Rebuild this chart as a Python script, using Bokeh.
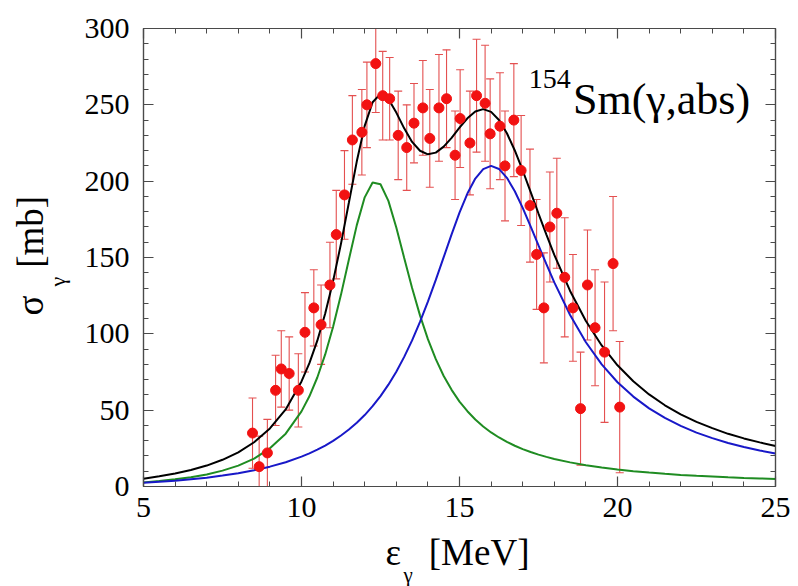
import numpy as np
from bokeh.plotting import figure
from bokeh.models import Range1d, LinearAxis, Label, FixedTicker, ColumnDataSource, Title
from bokeh.embed import file_html
from bokeh.resources import INLINE

# ---- measured photo-absorption points for 154Sm ----
energy_pts = [8.45, 8.66, 8.92, 9.18, 9.36, 9.61, 9.90, 10.11, 10.39, 10.62, 10.90, 11.10,
              11.36, 11.61, 11.91, 12.07, 12.35, 12.57, 12.79, 13.06, 13.33, 13.56, 13.84,
              14.06, 14.35, 14.59, 14.86, 15.02, 15.33, 15.54, 15.81, 15.97, 16.28, 16.44,
              16.72, 16.95, 17.23, 17.44, 17.67, 17.86, 18.08, 18.33, 18.59, 18.83, 19.05,
              19.29, 19.59, 19.86, 20.07]
sigma_pts = [35, 13, 22, 63, 77, 74, 63, 101, 117, 106, 132, 165, 191, 227, 232, 250, 277,
             256, 254, 230, 222, 238, 248, 228, 248, 254, 217, 241, 225, 256, 251, 231, 236,
             210, 240, 207, 184, 152, 117, 170, 179, 137, 117, 51, 132, 104, 88, 146, 52]
sigma_err = [23, 20, 22, 23, 25, 24, 24, 26, 25, 26, 28, 29, 29, 29, 28, 28, 32, 29, 27, 29,
             28, 26, 31, 32, 35, 32, 29, 32, 34, 37, 38, 36, 35, 36, 37, 36, 37, 36, 36, 36,
             36, 39, 35, 37, 36, 38, 46, 44, 43]

# ---- curves ----
curve_e = [5, 5.5, 6, 6.5, 7, 7.5, 8, 8.5, 9, 9.5, 10, 10.25, 10.5, 10.75, 11, 11.25, 11.5,
           11.75, 12, 12.25, 12.5, 12.75, 13, 13.25, 13.5, 13.75, 14, 14.25, 14.5, 14.75, 15,
           15.25, 15.5, 15.75, 16, 16.25, 16.5, 16.75, 17, 17.25, 17.5, 17.75, 18, 18.5, 19,
           19.5, 20, 20.5, 21, 21.5, 22, 22.5, 23, 23.5, 24, 24.5, 25]
curve_low = [2.7, 3.6, 4.7, 6.1, 7.9, 10.4, 13.7, 18.3, 25.0, 34.6, 49.2, 59.1, 71.4, 86.5,
             104.6, 125.7, 148.7, 171.2, 189.4, 199.1, 198.0, 187.1, 169.7, 149.7, 130.0,
             112.1, 96.5, 83.4, 72.4, 63.3, 55.6, 49.3, 43.9, 39.3, 35.4, 32.1, 29.2, 26.7,
             24.5, 22.6, 20.9, 19.4, 18.0, 15.8, 13.9, 12.4, 11.1, 10.0, 9.1, 8.3, 7.6, 7.0,
             6.5, 6.0, 5.6, 5.3, 4.9]
curve_high = [2.4, 3.1, 3.8, 4.8, 5.8, 7.2, 8.7, 10.7, 13.0, 15.9, 19.6, 21.7, 24.1, 26.8,
              29.9, 33.4, 37.3, 41.8, 46.8, 52.6, 59.2, 66.7, 75.2, 84.9, 95.7, 107.8, 121.1,
              135.3, 150.2, 165.1, 179.4, 191.9, 201.7, 207.9, 210.0, 208.0, 202.2, 193.4,
              182.5, 170.4, 157.9, 145.6, 133.7, 112.3, 94.5, 80.0, 68.3, 58.9, 51.2, 44.9,
              39.7, 35.3, 31.7, 28.5, 25.9, 23.6, 21.6]
curve_total = [5.1, 6.7, 8.5, 10.8, 13.7, 17.5, 22.4, 29.0, 38.0, 50.5, 68.8, 80.8, 95.5,
               113.3, 134.5, 159.1, 186.0, 213.0, 236.2, 251.7, 257.2, 253.8, 244.9, 234.6,
               225.7, 219.9, 217.6, 218.7, 222.6, 228.4, 235.0, 241.2, 245.6, 247.2, 245.4,
               240.1, 231.4, 220.1, 207.0, 193.0, 178.8, 165.0, 151.7, 128.1, 108.4, 92.4,
               79.4, 68.9, 60.3, 53.2, 47.3, 42.3, 38.2, 34.5, 31.5, 28.9, 26.5]

x_major = [5, 10, 15, 20, 25]
x_minor = list(range(5, 26))
y_major = [0, 50, 100, 150, 200, 250, 300]
y_minor = list(range(0, 301, 10))

SERIF = "Liberation Serif"
AXC = "#4a4a4a"
NB = "\u00a0"

pts = ColumnDataSource(dict(
    x=energy_pts, y=sigma_pts,
    lo=[s - e for s, e in zip(sigma_pts, sigma_err)],
    hi=[s + e for s, e in zip(sigma_pts, sigma_err)],
))
cur = ColumnDataSource(dict(e=curve_e, low=curve_low, high=curve_high, tot=curve_total))

p = figure(width=798, height=586, x_range=Range1d(5, 25), y_range=Range1d(0, 300),
           output_backend="svg", toolbar_location=None,
           min_border_left=143, min_border_right=23, min_border_top=28, min_border_bottom=97)
p.xgrid.visible = False
p.ygrid.visible = False
p.outline_line_color = AXC
p.outline_line_width = 1.2
p.background_fill_color = "white"
p.border_fill_color = "white"

bottom = p.below[0]
left = p.left[0]
top = LinearAxis()
right = LinearAxis()
p.add_layout(top, "above")
p.add_layout(right, "right")

for ax in [bottom, top]:
    ax.ticker = FixedTicker(ticks=x_major, minor_ticks=x_minor)
for ax in [left, right]:
    ax.ticker = FixedTicker(ticks=y_major, minor_ticks=y_minor)

for ax in [bottom, left, top, right]:
    ax.major_tick_in = 10
    ax.major_tick_out = 0
    ax.minor_tick_in = 5
    ax.minor_tick_out = 0
    ax.axis_line_color = AXC
    ax.axis_line_width = 1.2
    ax.major_tick_line_color = AXC
    ax.minor_tick_line_color = AXC
    ax.major_tick_line_width = 1.2
    ax.major_label_text_font = SERIF
    ax.major_label_text_font_size = "30px"
    ax.major_label_text_color = "black"

for ax in [top, right]:
    ax.major_label_text_font_size = "1px"
    ax.major_label_text_color = None
    ax.major_label_standoff = 0

bottom.major_label_standoff = 11
left.major_label_standoff = 14

# error bars
p.segment(x0="x", y0="lo", x1="x", y1="hi", source=pts, line_color="#e45050", line_width=1.1)
p.scatter(x="x", y="hi", source=pts, marker="dash", size=8, line_color="#e45050", line_width=1.1)
p.scatter(x="x", y="lo", source=pts, marker="dash", size=8, line_color="#e45050", line_width=1.1)

# curves
p.line(x="e", y="low", source=cur, line_color="#1f8c22", line_width=2)
p.line(x="e", y="high", source=cur, line_color="#1818c8", line_width=2)
p.line(x="e", y="tot", source=cur, line_color="black", line_width=2)

# points
p.scatter(x="x", y="y", source=pts, marker="circle", size=10, fill_color="#f21212",
          line_color="#f21212")

# annotation inside the frame
p.add_layout(Label(x=17.19, y=267.0, text="154", text_font=SERIF, text_font_size="28px",
                   text_color="black", text_baseline="alphabetic", text_align="left"))
p.add_layout(Label(x=18.59, y=253.3, text="Sm(γ,abs)", text_font=SERIF, text_font_size="44px",
                   text_color="black", text_baseline="alphabetic", text_align="left"))


def side_title(text, size, align_v, standoff, offset):
    return Title(text=text, text_font=SERIF, text_font_size=size, text_font_style="normal",
                 text_color="black", align="left", vertical_align=align_v,
                 standoff=standoff, offset=offset)


# x axis title: eps_gamma [MeV]
p.add_layout(side_title("ε" + NB * 3 + "[MeV]", "37px", "top", 24, 242), "below")
p.add_layout(side_title("γ", "21px", "top", -47, 260), "below")

# y axis title: sigma_gamma [mb]
p.add_layout(side_title("γ", "22px", "bottom", 24, 200), "left")
p.add_layout(side_title("σ" + NB * 3 + "[mb]", "37px", "bottom", -40, 171), "left")

open("out.html", "w").write(file_html(p, INLINE))
